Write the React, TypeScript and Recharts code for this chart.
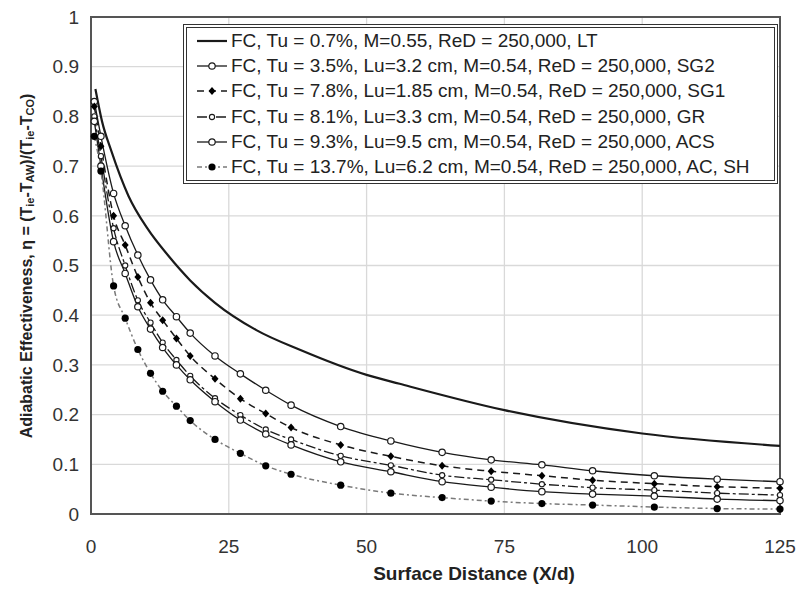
import React from 'react';
import {
  LineChart,
  Line,
  XAxis,
  YAxis,
  CartesianGrid,
  Legend,
  ReferenceArea,
} from 'recharts';

// marker positions (X/d) shared by the five measured series
const xPts = [0.6, 1.8, 4.1, 6.2, 8.5, 10.8, 13, 15.5, 18, 22.5, 27.1, 31.7, 36.3, 45.3, 54.4, 63.7, 72.6, 81.8, 91, 102.2, 113.6, 125];

const sg2 = [0.83, 0.76, 0.645, 0.58, 0.521, 0.471, 0.431, 0.397, 0.364, 0.318, 0.282, 0.249, 0.219, 0.176, 0.147, 0.124, 0.109, 0.099, 0.087, 0.077, 0.07, 0.065];
const sg1 = [0.82, 0.74, 0.6, 0.541, 0.477, 0.425, 0.39, 0.353, 0.318, 0.272, 0.232, 0.202, 0.174, 0.139, 0.116, 0.097, 0.086, 0.077, 0.068, 0.061, 0.055, 0.052];
const gr = [0.8, 0.72, 0.575, 0.5, 0.43, 0.385, 0.345, 0.31, 0.278, 0.233, 0.199, 0.17, 0.15, 0.117, 0.098, 0.078, 0.069, 0.06, 0.053, 0.048, 0.042, 0.038];
const acs = [0.79, 0.7, 0.548, 0.484, 0.417, 0.372, 0.335, 0.3, 0.27, 0.226, 0.189, 0.161, 0.139, 0.105, 0.085, 0.065, 0.054, 0.045, 0.04, 0.036, 0.03, 0.027];
const sh = [0.76, 0.69, 0.459, 0.394, 0.331, 0.283, 0.247, 0.217, 0.188, 0.15, 0.122, 0.097, 0.08, 0.058, 0.042, 0.033, 0.026, 0.021, 0.018, 0.014, 0.011, 0.01];

// low turbulence curve (line only)
const ltX = [0.8, 2, 3.7, 6.8, 10.2, 14, 18, 22.5, 30, 38, 50, 56, 75, 100, 125];
const ltY = [0.855, 0.79, 0.73, 0.64, 0.575, 0.52, 0.47, 0.425, 0.37, 0.33, 0.28, 0.262, 0.209, 0.162, 0.137];

const xTicks = [0, 25, 50, 75, 100, 125];
const yTicks = [0, 0.1, 0.2, 0.3, 0.4, 0.5, 0.6, 0.7, 0.8, 0.9, 1];

const names = [
  'FC, Tu = 0.7%, M=0.55, ReD = 250,000, LT',
  'FC, Tu = 3.5%, Lu=3.2 cm, M=0.54, ReD = 250,000, SG2',
  'FC, Tu = 7.8%, Lu=1.85 cm, M=0.54, ReD = 250,000, SG1',
  'FC, Tu = 8.1%, Lu=3.3 cm, M=0.54, ReD = 250,000, GR',
  'FC, Tu = 9.3%, Lu=9.5 cm, M=0.54, ReD = 250,000, ACS',
  'FC, Tu = 13.7%, Lu=6.2 cm, M=0.54, ReD = 250,000, AC, SH',
];

const FONT = '"Liberation Sans", Arial, sans-serif';
const INK = '#1a1a1a';

const toPts = (xs: number[], ys: number[]) => xs.map((x, i) => ({ x, y: ys[i] }));

type Marker = 'none' | 'open' | 'filled' | 'diamond' | 'small';

const styles: { marker: Marker; dash?: string; width: number; color: string }[] = [
  { marker: 'none', width: 2.2, color: INK },
  { marker: 'open', width: 1.3, color: INK },
  { marker: 'diamond', dash: '7 5', width: 1.5, color: INK },
  { marker: 'small', dash: '10 3 3 3', width: 1.3, color: INK },
  { marker: 'open', width: 1.3, color: INK },
  { marker: 'filled', dash: '5 3 2 3', width: 1.5, color: '#7a7a7a' },
];

const drawMarker = (m: Marker, cx: number, cy: number, key?: number | string) => {
  if (m === 'open') return <circle key={key} cx={cx} cy={cy} r={3.2} fill="#fff" stroke={INK} strokeWidth={1.2} />;
  if (m === 'small') return <circle key={key} cx={cx} cy={cy} r={2.6} fill="#fff" stroke={INK} strokeWidth={1.1} />;
  if (m === 'filled') return <circle key={key} cx={cx} cy={cy} r={3.6} fill="#000" stroke="none" />;
  if (m === 'diamond')
    return <path key={key} d={`M${cx},${cy - 4}L${cx + 3.5},${cy}L${cx},${cy + 4}L${cx - 3.5},${cy}Z`} fill="#000" />;
  return <g key={key} />;
};

const dotFor = (m: Marker) => (props: any) => drawMarker(m, props.cx, props.cy, props.index);

const LegendBox = () => (
  <div
    style={{
      width: 595,
      height: 160,
      boxSizing: 'border-box',
      border: '4px double #333',
      background: '#fff',
      padding: '0 0 0 8px',
      fontFamily: FONT,
      fontSize: 19,
      color: '#222',
    }}
  >
    {names.map((n, i) => {
      const s = styles[i];
      return (
        <div key={n} style={{ display: 'flex', alignItems: 'center', height: 25.3, whiteSpace: 'nowrap' }}>
          <svg width={36} height={14} style={{ flex: 'none' }}>
            <line x1={2} y1={7} x2={32} y2={7} stroke={s.color} strokeWidth={s.width} strokeDasharray={s.dash} />
            {drawMarker(s.marker, 17, 7)}
          </svg>
          <span>{n}</span>
        </div>
      );
    })}
  </div>
);

const YTitle = () => (
  <text
    x={26}
    y={266}
    transform="rotate(-90 26 266)"
    textAnchor="middle"
    dominantBaseline="central"
    fontFamily={FONT}
    fontWeight="bold"
    fontSize={16}
    fill="#222"
  >
    Adiabatic Effectiveness, η = (T
    <tspan fontSize={11} dy={4}>ie</tspan>
    <tspan dy={-4}>-T</tspan>
    <tspan fontSize={11} dy={4}>AW</tspan>
    <tspan dy={-4}>)/(T</tspan>
    <tspan fontSize={11} dy={4}>ie</tspan>
    <tspan dy={-4}>-T</tspan>
    <tspan fontSize={11} dy={4}>CO</tspan>
    <tspan dy={-4}>)</tspan>
  </text>
);

const XTitle = () => (
  <text x={474} y={580} textAnchor="middle" fontFamily={FONT} fontWeight="bold" fontSize={19} fill="#222">
    Surface Distance (X/d)
  </text>
);

const series = [
  toPts(ltX, ltY),
  toPts(xPts, sg2),
  toPts(xPts, sg1),
  toPts(xPts, gr),
  toPts(xPts, acs),
  toPts(xPts, sh),
];

const tickStyle = { fill: '#333', fontSize: 19, fontFamily: FONT };

export default function App() {
  return (
    <div style={{ position: 'absolute', left: 0, top: 0, width: 807, height: 591, background: '#fff' }}>
      <LineChart width={807} height={591} margin={{ top: 17, right: 27, left: 31, bottom: 27 }}>
        <CartesianGrid stroke="#d9d9d9" strokeWidth={1.3} />
        <XAxis
          dataKey="x"
          type="number"
          domain={[0, 125]}
          ticks={xTicks}
          height={50}
          tickSize={0}
          tickMargin={26}
          axisLine={false}
          tick={tickStyle}
          allowDuplicatedCategory={false}
        />
        <YAxis
          type="number"
          domain={[0, 1]}
          ticks={yTicks}
          width={60}
          tickSize={0}
          tickMargin={12}
          axisLine={false}
          tick={tickStyle}
          tickFormatter={(v: number) => String(Math.round(v * 10) / 10)}
        />
        <ReferenceArea x1={0} x2={125} y1={0} y2={1} fill="none" stroke="#555" strokeWidth={2} strokeOpacity={1} fillOpacity={0} />
        {series.map((d, i) => {
          const s = styles[i];
          return (
            <Line
              key={names[i]}
              name={names[i]}
              data={d}
              dataKey="y"
              type="monotone"
              stroke={s.color}
              strokeWidth={s.width}
              strokeDasharray={s.dash}
              dot={s.marker === 'none' ? false : dotFor(s.marker)}
              activeDot={false}
              isAnimationActive={false}
            />
          );
        })}
        <Legend
          layout="vertical"
          align="center"
          verticalAlign="middle"
          content={() => <LegendBox />}
          wrapperStyle={{ left: 183, top: 24, width: 595, height: 160 }}
        />
        <YTitle />
        <XTitle />
      </LineChart>
    </div>
  );
}
